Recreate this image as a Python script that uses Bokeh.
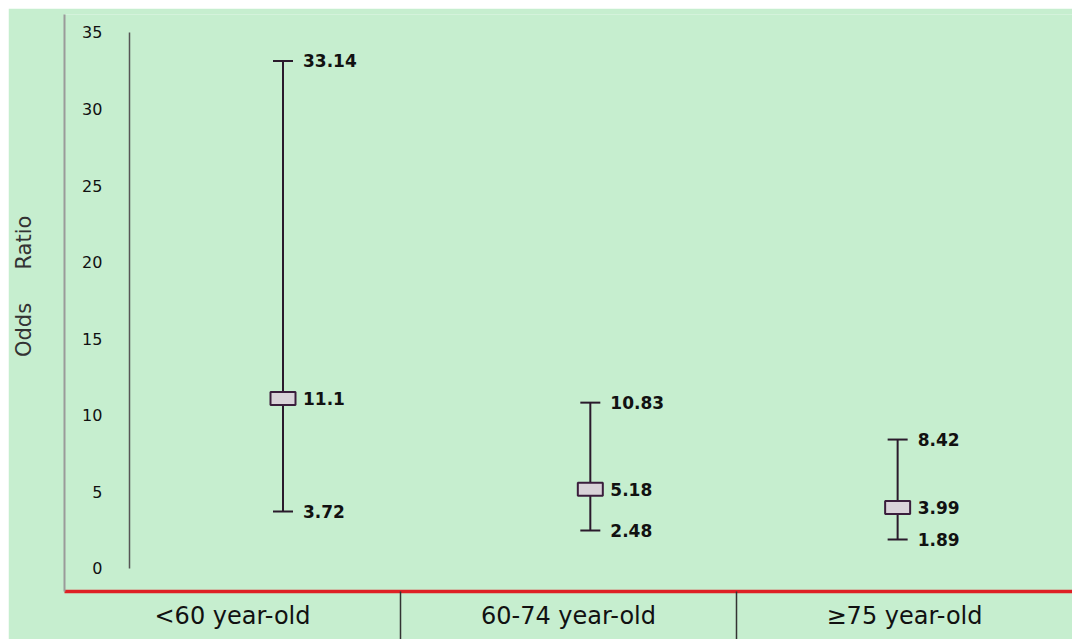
from bokeh.plotting import figure
from bokeh.models import (ColumnDataSource, Range1d, LinearAxis,
                          FixedTicker, Whisker, TeeHead, LinearScale)
from bokeh.core.properties import value
from bokeh.embed import file_html
from bokeh.resources import INLINE

# ---- data ----
groups = ["<60 year-old", "60-74 year-old", "≥75 year-old"]
odds_ratio = [11.1, 5.18, 3.99]
ci_lower = [3.72, 2.48, 1.89]
ci_upper = [33.14, 10.83, 8.42]
y_ticks = [0, 5, 10, 15, 20, 25, 30, 35]
y_label = "\u00a0" * 5 + "Odds" + "\u00a0" * 5 + "Ratio"

# ---- style ----
BG = "#C6EECF"
INK = "#2a1a2c"
FONT = "DejaVu Sans"

xpos = list(range(len(groups)))
Y0, Y1 = -1.502, 36.175

p = figure(width=1064, height=631, output_backend="svg", toolbar_location=None,
           x_range=Range1d(-0.711, 2.569), y_range=Range1d(Y0, Y1),
           x_axis_location=None, y_axis_location=None,
           min_border_left=56, min_border_right=0, min_border_top=6, min_border_bottom=48)
p.margin = (8, 0, 0, 8)
p.background_fill_color = BG
p.border_fill_color = BG
p.outline_line_color = None
p.grid.visible = False

# left label axis (grey border line + "Odds Ratio")
lab_axis = LinearAxis(ticker=FixedTicker(ticks=[]), axis_label=y_label,
                      axis_label_text_font=FONT, axis_label_text_font_size="21px",
                      axis_label_text_color="#333333", axis_label_text_font_style="normal",
                      axis_label_standoff=29, axis_line_color="#9a9a9a", axis_line_width=2,
                      major_tick_line_color=None, minor_tick_line_color=None)
p.add_layout(lab_axis, "left")

# value axis drawn inside the frame
y_axis = LinearAxis(ticker=FixedTicker(ticks=y_ticks), fixed_location=-0.5, bounds=(0, 35),
                    axis_line_color="#555555", axis_line_width=1.5,
                    major_tick_line_color=None, minor_tick_line_color=None,
                    major_label_standoff=21, major_label_text_font=FONT,
                    major_label_text_font_size="16px", major_label_text_color="#111111")
p.add_layout(y_axis, "left")

# category axis: equal bands across the frame, separators as minor ticks
n = len(groups)
band_centers = [i + 0.5 for i in range(n)]
band_edges = [i for i in range(1, n)]
p.extra_x_ranges = {"bands": Range1d(0, n)}
p.extra_x_scales = {"bands": LinearScale()}
x_axis = LinearAxis(x_range_name="bands",
                    ticker=FixedTicker(ticks=band_centers, minor_ticks=band_edges),
                    major_label_overrides={c: g for c, g in zip(band_centers, groups)},
                    axis_line_color="#de2025", axis_line_width=3.5,
                    major_tick_line_color=None, major_tick_out=0, major_tick_in=0,
                    minor_tick_line_color="#333333", minor_tick_line_width=1.5,
                    minor_tick_out=48, minor_tick_in=0,
                    major_label_standoff=-38, major_label_text_font=FONT,
                    major_label_text_font_size="24px", major_label_text_color="#111111")
p.add_layout(x_axis, "below")

src = ColumnDataSource(dict(x=xpos, orv=odds_ratio, lo=ci_lower, hi=ci_upper))
w = Whisker(base="x", lower="lo", upper="hi", source=src, line_color=INK, line_width=2,
            upper_head=TeeHead(size=20, line_color=INK, line_width=2),
            lower_head=TeeHead(size=20, line_color=INK, line_width=2))
p.add_layout(w)

p.rect("x", "orv", width=25, height=13, width_units="screen", height_units="screen",
       source=src, fill_color="#d9d3d9", line_color="#3a1e3c", line_width=2)

lab_y = ci_upper + odds_ratio + ci_lower
lab_src = ColumnDataSource(dict(x=xpos * 3, y=lab_y, t=[f"{v:g}" for v in lab_y]))
p.text("x", "y", text="t", source=lab_src, x_offset=20, text_baseline="middle",
       text_align="left", text_font=value(FONT), text_font_size="17px",
       text_font_style="bold", text_color="#111111")

open("out.html", "w").write(file_html(p, INLINE))
